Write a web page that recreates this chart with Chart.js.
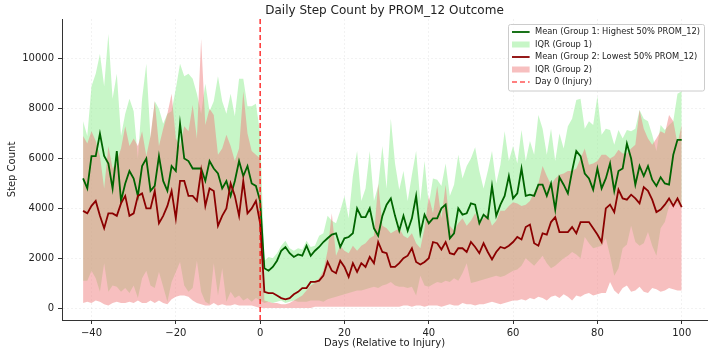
<!DOCTYPE html>
<html>
<head>
<meta charset="utf-8">
<script src="https://cdn.jsdelivr.net/npm/chart.js@4.4.1/dist/chart.umd.min.js"></script>
<style>
  html, body { margin: 0; padding: 0; background: #fff; }
  #stepChart { display: block; }
</style>
</head>
<body>
<canvas id="stepChart" width="714" height="354"></canvas>
<script>
// days relative to injury, -42 .. 100
const days = Array.from({ length: 143 }, (_, i) => i - 42);

// Group 1 (highest 50% PROM_12)
const g1Mean = [
  5200,4800,6100,6100,7000,6100,5800,4800,6300,4300,5000,5500,5200,4500,5700,6000,4700,4900,6100,5100,4700,5700,5500,7400,6000,5900,
  5600,5600,5600,5100,5900,5600,5400,4800,5100,4500,5100,5900,5300,5700,5000,4900,4300,
  1600,1500,1650,1900,2300,2450,2200,2050,2150,2100,2500,2100,2300,2450,2650,2800,2950,3000,2450,2800,2850,3000,4000,3650,3650,4000,3200,2900,3700,4150,4400,
  3700,3100,3700,3100,3600,4500,3000,3750,3400,3600,3600,4000,4150,2800,3000,4000,3750,3800,4200,4150,3400,3750,3600,4900,3700,4150,4500,
  5300,4400,4600,5600,4500,4550,4500,4950,4950,4500,5000,3950,5250,4950,4600,5500,6300,6100,5400,5200,4750,5600,4800,5200,
  5800,4700,5500,5600,6600,6000,4950,5700,5300,5700,5150,4900,5250,5000,4950,6150,6750,6750
];
const g1Q3 = [
  7500,6900,8900,9400,10200,8900,11000,8400,9400,6900,7800,8400,7900,6000,8400,9800,6800,8300,8000,7400,7800,7900,8800,9800,9300,9400,
  9200,8600,7800,9000,7900,8300,9300,8300,7800,8600,7700,9200,9200,8100,8100,8200,7000,
  1900,2050,2000,2200,2500,2700,2400,2300,2400,2350,2700,2450,2500,2900,3000,3700,3500,3400,3900,4500,3600,5300,6300,4300,4800,6300,4300,4900,6500,4800,7600,5800,4750,
  5500,4300,5350,6300,4300,5900,4150,5200,5150,4900,5800,4500,4950,6150,5200,5700,6000,6450,5500,4800,5500,6300,5000,5750,
  7100,5900,6500,5800,7150,5900,6700,6150,7750,7200,6150,7200,5900,7000,6400,7300,7600,8350,8400,7200,7500,7350,8500,6950,
  7200,7150,6550,7150,6800,7150,7100,7200,7950,7600,7500,6950,6300,7350,7150,7350,7500,8600,8700
];
const g1Q1 = [
  1100,1100,1500,1200,650,1800,650,900,850,650,800,600,900,400,1200,1500,900,800,1450,850,250,1050,1450,1850,900,650,
  800,1900,650,250,150,1800,500,1600,250,650,400,500,300,400,250,400,300,
  200,250,200,250,300,200,250,300,250,250,250,300,300,300,250,350,400,450,500,550,600,650,700,700,750,800,850,800,900,950,1050,900,850,
  850,800,850,500,1300,900,850,950,1050,1000,1100,1050,1200,1100,1400,1800,1000,1050,1100,1150,1200,1250,1300,1250,
  1300,1400,1500,1550,1700,2000,1850,1700,1900,2100,1800,1600,1700,1850,2000,2100,2250,2150,2000,2850,2600,2400,2450,2500,
  2800,2100,1300,1600,2400,2550,3300,2650,2500,2600,3050,2500,2100,3200,3450,4100,4250,4200,4000
];

// Group 2 (lowest 50% PROM_12)
const g2Mean = [
  3900,3800,4100,4300,3700,3200,3800,3800,3700,4200,4500,3700,3800,4500,4600,4000,4000,4700,3400,3700,4100,4700,3600,5100,5100,4500,
  4500,4300,5500,4100,4800,4700,3300,3700,4000,5000,4500,3700,5100,3800,4000,4300,3400,
  650,600,600,500,400,350,400,550,650,800,800,1050,1050,1100,1300,1850,1500,1400,1900,1650,1250,1800,1450,1800,1650,2050,1800,2650,2250,2200,1650,1650,1800,
  2000,2100,2400,1850,1750,1850,2000,2650,2600,2350,2650,2200,2150,2400,2400,2250,2650,2450,2200,2600,2250,1950,2250,2450,
  2400,2500,2650,2850,2750,3250,3350,2600,2500,3000,2950,3450,3650,3050,3050,3050,3250,3000,3450,3450,3450,3200,2950,2650,
  4000,4150,3850,4750,4400,4350,4550,4400,4200,4850,4700,4350,3850,3950,4150,4400,4100,4400,4050
];
const g2Q3 = [
  6900,6600,7100,6700,6100,4800,6500,5600,5900,6400,7300,6500,6800,6500,7100,6100,6900,8300,6500,7200,7800,8600,6800,6500,7300,7100,
  8150,6800,10800,7350,8000,7750,6150,6400,6950,6500,5900,6400,8700,7000,6300,6150,6000,
  300,250,200,200,150,150,200,300,400,500,700,900,1000,1200,1500,2300,3800,2100,2500,2300,2200,2500,2300,2500,2600,2800,2900,5000,3300,3200,3000,3100,3200,
  2900,2800,3000,2600,2400,3200,4500,3800,4900,3600,4950,3300,3100,3400,3600,3300,3500,3800,3400,3600,3800,3300,3500,3900,
  3900,4100,4250,4200,4100,4150,4300,4650,5000,5700,5300,4950,5200,5350,5400,5500,5500,5600,6000,6400,5750,5800,5900,6150,
  6150,6000,6100,6350,6200,6200,6400,6550,7950,7200,6800,6550,6800,7100,7000,7750,7500,6600,7350
];
const g2Q1 = [
  200,250,200,300,250,150,100,200,250,200,200,250,200,300,200,200,300,200,300,200,150,350,450,500,500,450,
  300,200,150,100,100,200,100,150,100,100,150,100,100,100,100,50,0,
  0,0,0,0,0,0,0,0,0,0,0,0,50,50,50,50,50,50,50,50,50,50,50,50,50,50,50,50,50,50,50,50,50,
  100,100,50,100,100,50,100,100,100,50,100,150,100,100,200,150,150,100,150,150,200,250,200,150,
  200,250,300,300,350,300,400,350,450,400,300,450,500,400,550,450,300,500,450,550,600,500,550,600,
  600,1050,700,550,800,900,650,700,850,650,600,800,750,650,700,800,750,700,700
];

const xTicks = [-40, -20, 0, 20, 40, 60, 80, 100];
const yTicks = [0, 2000, 4000, 6000, 8000, 10000];
const injuryDay = 0;

const pts = arr => days.map((d, i) => ({ x: d, y: arr[i] }));

const GREEN_FILL = 'rgba(144,238,144,0.5)';
const RED_FILL = 'rgba(240,128,128,0.5)';

const Y_MIN = -480, Y_MAX = 11600;

// matplotlib-style legend in the upper right corner
const cornerLegend = {
  id: 'cornerLegend',
  afterDraw(chart) {
    const ctx = chart.ctx;
    const items = chart.data.datasets.filter(ds => ds.legendKind);
    const x0 = 508, y0 = 24, w = 196, rowH = 12.5;
    const h = items.length * rowH + 4;
    ctx.save();
    ctx.fillStyle = 'rgba(255,255,255,0.8)';
    ctx.strokeStyle = '#cccccc';
    ctx.lineWidth = 1;
    ctx.beginPath();
    ctx.roundRect(x0 + 0.5, y0 + 0.5, w, h, 2);
    ctx.fill();
    ctx.stroke();
    ctx.font = '8.3px "DejaVu Sans"';
    ctx.textBaseline = 'middle';
    items.forEach((ds, i) => {
      const cy = y0 + 8 + i * rowH;
      if (ds.legendKind === 'rect') {
        ctx.fillStyle = ds.backgroundColor;
        ctx.fillRect(x0 + 4, cy - 3, 17.6, 6);
      } else {
        ctx.strokeStyle = ds.borderColor;
        ctx.lineWidth = ds.borderWidth;
        ctx.setLineDash(ds.borderDash || []);
        ctx.beginPath();
        ctx.moveTo(x0 + 4, cy);
        ctx.lineTo(x0 + 21.6, cy);
        ctx.stroke();
        ctx.setLineDash([]);
      }
      ctx.fillStyle = '#222';
      ctx.fillText(ds.label, x0 + 27, cy);
    });
    ctx.restore();
  }
};

const chartTitle = {
  id: 'chartTitle',
  afterDraw(chart) {
    const ctx = chart.ctx;
    const a = chart.chartArea;
    ctx.save();
    ctx.font = '12px "DejaVu Sans"';
    ctx.fillStyle = '#222';
    ctx.textAlign = 'center';
    ctx.textBaseline = 'middle';
    ctx.fillText('Daily Step Count by PROM_12 Outcome', (a.left + a.right) / 2, 11);
    ctx.restore();
  }
};

Chart.defaults.font.family = '"DejaVu Sans"';
Chart.defaults.font.size = 10;
Chart.defaults.color = '#222';

new Chart(document.getElementById('stepChart').getContext('2d'), {
  type: 'line',
  data: {
    datasets: [
      { label: 'Mean (Group 1: Highest 50% PROM_12)', legendKind: 'line', data: pts(g1Mean),
        borderColor: '#006400', borderWidth: 1.8, fill: false, order: 2 },
      { label: 'IQR (Group 1)', legendKind: 'rect', data: pts(g1Q3),
        borderColor: 'transparent', borderWidth: 0, backgroundColor: GREEN_FILL,
        fill: { target: 2, above: GREEN_FILL, below: GREEN_FILL }, order: 5 },
      { label: '', data: pts(g1Q1), borderColor: 'transparent', borderWidth: 0, fill: false, order: 6 },
      { label: 'Mean (Group 2: Lowest 50% PROM_12)', legendKind: 'line', data: pts(g2Mean),
        borderColor: '#8b0000', borderWidth: 1.8, fill: false, order: 1 },
      { label: 'IQR (Group 2)', legendKind: 'rect', data: pts(g2Q3),
        borderColor: 'transparent', borderWidth: 0, backgroundColor: RED_FILL,
        fill: { target: 5, above: RED_FILL, below: RED_FILL }, order: 4 },
      { label: '', data: pts(g2Q1), borderColor: 'transparent', borderWidth: 0, fill: false, order: 7 },
      { label: 'Day 0 (Injury)', legendKind: 'line',
        data: [{ x: injuryDay, y: Y_MIN }, { x: injuryDay, y: Y_MAX }],
        borderColor: '#ff0000', borderWidth: 1.2, borderDash: [5, 3], fill: false, order: 0 }
    ]
  },
  options: {
    responsive: false,
    devicePixelRatio: 1,
    animation: false,
    layout: { padding: { top: 19, right: 7, left: 0, bottom: 0 } },
    elements: { point: { radius: 0, hoverRadius: 0 }, line: { tension: 0 } },
    plugins: { legend: { display: false }, tooltip: { enabled: false }, title: { display: false } },
    scales: {
      x: {
        type: 'linear', min: -47, max: 106,
        afterBuildTicks: s => { s.ticks = xTicks.map(v => ({ value: v })); },
        afterFit: s => { s.height = 34; },
        ticks: { padding: 3, color: '#222', callback: v => (v < 0 ? '\u2212' + Math.abs(v) : String(v)) },
        grid: { color: 'rgba(0,0,0,0.05)', tickColor: '#333', tickLength: 4 },
        border: { color: '#333', width: 1, dash: [2, 2] },
        title: { display: true, text: 'Days (Relative to Injury)', font: { size: 10 }, padding: { top: 0, bottom: 5 } }
      },
      y: {
        min: Y_MIN, max: Y_MAX,
        afterBuildTicks: s => { s.ticks = yTicks.map(v => ({ value: v })); },
        afterFit: s => { s.width = 62; },
        ticks: { padding: 4, color: '#222', callback: v => String(v) },
        grid: { color: 'rgba(0,0,0,0.05)', tickColor: '#333', tickLength: 4 },
        border: { color: '#333', width: 1, dash: [2, 2] },
        title: { display: true, text: 'Step Count', font: { size: 10 }, padding: { top: 6, bottom: 0 } }
      }
    }
  },
  plugins: [chartTitle, cornerLegend]
});
</script>
</body>
</html>
